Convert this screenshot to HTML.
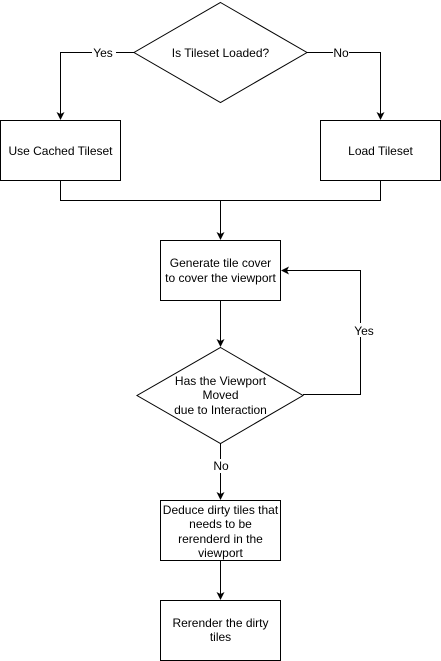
<!DOCTYPE html>
<html><head><meta charset="utf-8"><style>
html,body{margin:0;padding:0;background:#fff}
svg{display:block}
text{font-family:"Liberation Sans",Arial,sans-serif;font-size:12px;fill:#000}
</style></head><body>
<svg width="441" height="661" viewBox="0 0 441 661" xmlns="http://www.w3.org/2000/svg">
<defs><marker id="a" markerWidth="8" markerHeight="8" refX="7" refY="4" orient="auto" markerUnits="userSpaceOnUse"><path d="M0,0 L8,4 L0,8 L2,4 Z" fill="#000"/></marker></defs>
<g fill="none" stroke="#000" stroke-width="1">
<polygon points="220.5,2.5 307,52.5 220.5,102.5 134,52.5" fill="#fff"/>
<path d="M134,52.5 H60.5 V119" marker-end="url(#a)"/>
<path d="M307,52.5 H380.5 V119" marker-end="url(#a)"/>
<rect x="0.5" y="120.5" width="120" height="60" fill="#fff"/>
<rect x="320.5" y="120.5" width="120" height="60" fill="#fff"/>
<path d="M60.5,180.5 V200.5 H380.5 V180.5"/>
<path d="M220.5,200.5 V239" marker-end="url(#a)"/>
<rect x="160.5" y="240.5" width="120" height="60" fill="#fff"/>
<path d="M220.5,300.5 V346" marker-end="url(#a)"/>
<polygon points="220.5,347.5 303,395.5 220.5,443.5 137,395.5" fill="#fff"/>
<path d="M303,394.5 H360.5 V270.5 H282" marker-end="url(#a)"/>
<path d="M220.5,443.5 V499" marker-end="url(#a)"/>
<rect x="160.5" y="500.5" width="120" height="60" fill="#fff"/>
<path d="M220.5,560.5 V599" marker-end="url(#a)"/>
<rect x="160.5" y="600.5" width="120" height="60" fill="#fff"/>
</g>
<rect x="92" y="45" width="24" height="14" fill="#fff"/>
<text x="103" y="57" text-anchor="middle">Yes</text>
<rect x="333" y="45" width="16" height="14" fill="#fff"/>
<text x="341" y="57" text-anchor="middle">No</text>
<text x="220.5" y="57" text-anchor="middle">Is Tileset Loaded?</text>
<text x="60.5" y="155" text-anchor="middle">Use Cached Tileset</text>
<text x="380.5" y="155" text-anchor="middle">Load Tileset</text>
<text x="220.5" y="267" text-anchor="middle">Generate tile cover</text>
<text x="220.5" y="282" text-anchor="middle">to cover the viewport</text>
<rect x="352" y="323" width="22" height="14" fill="#fff"/>
<text x="364" y="335" text-anchor="middle">Yes</text>
<text x="220.5" y="385" text-anchor="middle">Has the Viewport</text>
<text x="220.5" y="399" text-anchor="middle">Moved</text>
<text x="220.5" y="414" text-anchor="middle">due to Interaction</text>
<rect x="212" y="459" width="18" height="14" fill="#fff"/>
<text x="221" y="470" text-anchor="middle">No</text>
<text x="220.5" y="514" text-anchor="middle">Deduce dirty tiles that</text>
<text x="220.5" y="528" text-anchor="middle">needs to be</text>
<text x="220.5" y="543" text-anchor="middle">rerenderd in the</text>
<text x="220.5" y="557" text-anchor="middle">viewport</text>
<text x="220.5" y="627" text-anchor="middle">Rerender the dirty</text>
<text x="220.5" y="641" text-anchor="middle">tiles</text>
</svg>
</body></html>
